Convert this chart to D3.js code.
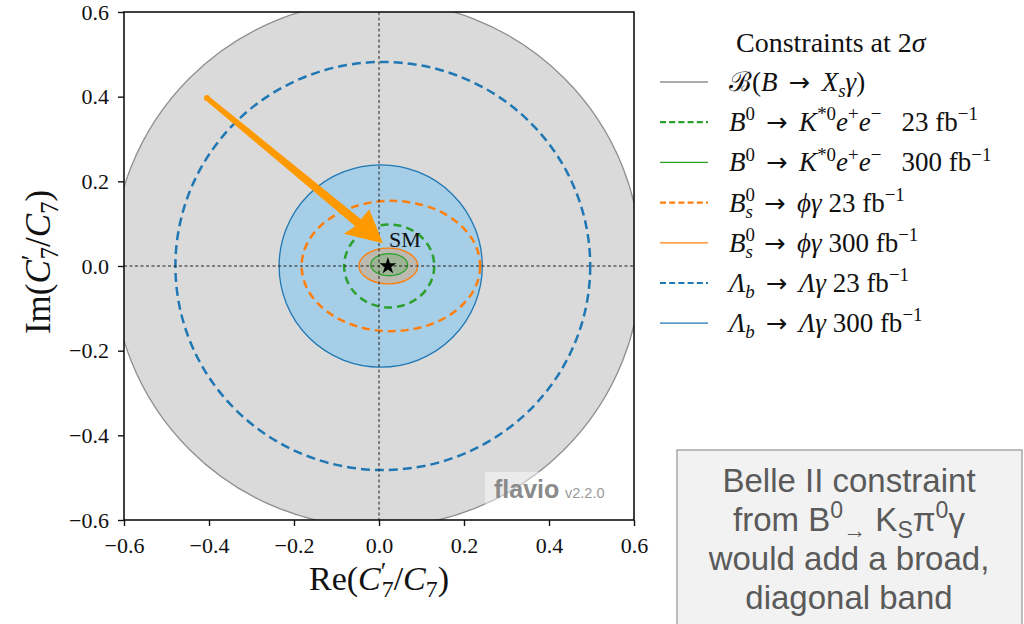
<!DOCTYPE html>
<html><head><meta charset="utf-8">
<script src="https://cdn.jsdelivr.net/npm/d3@7"></script>
<style>
html,body{margin:0;padding:0;background:#fff;}
svg{display:block;}
text{white-space:pre;}
</style></head>
<body>
<script>
// ---------- data ----------
const xTicks = [-0.6, -0.4, -0.2, 0.0, 0.2, 0.4, 0.6];
const yTicks = [-0.6, -0.4, -0.2, 0.0, 0.2, 0.4, 0.6];
const constraintKeys = ["xsgamma", "kee23", "kee300", "phig23", "phig300", "lam23", "lam300"];
const centerRe = [-0.005, 0.024, 0.024, 0.028, 0.022, 0.009, 0.004];
const centerIm = [0.005, 0.000, 0.003, 0.000, 0.000, 0.000, 0.000];
const radiusRe = [0.622, 0.106, 0.0435, 0.210, 0.069, 0.488, 0.239];
const radiusIm = [0.622, 0.098, 0.026, 0.154, 0.042, 0.482, 0.239];
const smPoint = [0.021, 0.0];
const arrowPts = [[-0.405, 0.397], [0.009, 0.054]];
const legendTitle = [["Constraints at 2", "r"], ["σ", "i"]];
const legendLabels = [
  [["ℬ", "r"], ["(", "r"], ["B", "i"], ["→", "arrow"], ["X", "i"], ["s", "isub"], ["γ", "i"], [")", "r"]],
  [["B", "i"], ["0", "sup"], ["→", "arrow"], ["K", "i"], ["*0", "sup"], ["e", "i"], ["+", "sup"], ["e", "i"], ["−", "sup"], ["   23 fb", "r"], ["−1", "sup"]],
  [["B", "i"], ["0", "sup"], ["→", "arrow"], ["K", "i"], ["*0", "sup"], ["e", "i"], ["+", "sup"], ["e", "i"], ["−", "sup"], ["   300 fb", "r"], ["−1", "sup"]],
  [["B", "i"], ["0", "sup"], ["s", "isubstack"], ["→", "arrow"], ["ϕγ", "i"], [" 23 fb", "r"], ["−1", "sup"]],
  [["B", "i"], ["0", "sup"], ["s", "isubstack"], ["→", "arrow"], ["ϕγ", "i"], [" 300 fb", "r"], ["−1", "sup"]],
  [["Λ", "i"], ["b", "isub"], ["→", "arrow"], ["Λγ", "i"], [" 23 fb", "r"], ["−1", "sup"]],
  [["Λ", "i"], ["b", "isub"], ["→", "arrow"], ["Λγ", "i"], [" 300 fb", "r"], ["−1", "sup"]]
];
const xLabel = [["Re(", "r"], ["C", "i"], ["′", "prime"], ["7", "substack"], ["/", "r"], ["C", "i"], ["7", "sub"], [")", "r"]];
const yLabel = [["Im(", "r"], ["C", "i"], ["′", "prime"], ["7", "substack"], ["/", "r"], ["C", "i"], ["7", "sub"], [")", "r"]];
const noteLines = [
  [["Belle II constraint", "r"]],
  [["from B", "r"], ["0", "sup"], ["→", "sub"], [" K", "r"], ["S", "sub"], ["π", "r"], ["0", "sup"], ["γ", "r"]],
  [["would add a broad,", "r"]],
  [["diagonal band", "r"]]
];
const watermark = ["flavio", "v2.2.0"];

// ---------- styles ----------
const styles = {
  xsgamma: {stroke: "#8f8f8f", fill: "#dadada", dash: null, w: 1.3},
  kee23:   {stroke: "#2ca02c", fill: "none", dash: "8,5", w: 2.5},
  kee300:  {stroke: "#2ca02c", fill: "rgba(44,160,44,0.22)", dash: null, w: 1.3},
  phig23:  {stroke: "#ff7f0e", fill: "none", dash: "8,5", w: 2.5},
  phig300: {stroke: "#ff7f0e", fill: "rgba(255,127,14,0.25)", dash: null, w: 1.3},
  lam23:   {stroke: "#1f77b4", fill: "none", dash: "9,5", w: 2.5},
  lam300:  {stroke: "#1f77b4", fill: "#a6cee6", dash: null, w: 1.3}
};
const drawOrder = ["xsgamma", "lam23", "lam300", "phig23", "kee23", "phig300", "kee300"];

const W = 1024, H = 624;
const serif = "'Liberation Serif', 'DejaVu Serif', serif";
const sans = "'Liberation Sans', Arial, sans-serif";

const svg = d3.select("body").append("svg").attr("width", W).attr("height", H);
const x = d3.scaleLinear().domain([-0.6, 0.6]).range([124, 634]);
const y = d3.scaleLinear().domain([-0.6, 0.6]).range([520, 12]);

function rich(textSel, segs, size) {
  let cur = 0, prev = null;
  segs.forEach(([t, st]) => {
    let target = 0, fs = size;
    if (st.includes("sup")) { target = -0.4 * size; fs = 0.7 * size; }
    if (st.includes("sub")) { target = 0.22 * size; fs = 0.7 * size; }
    if (st === "prime") { target = -0.3 * size; fs = 0.75 * size; }
    const ts = textSel.append("tspan").text(t)
      .attr("font-size", fs)
      .attr("font-style", st.startsWith("i") ? "italic" : "normal");
    if (st === "arrow") {
      ts.attr("font-family", "'DejaVu Sans', sans-serif").attr("font-size", size * 0.95)
        .attr("dx", size * 0.42);
    }
    if (prev && prev.attr("data-arrow")) ts.attr("dx", size * 0.42);
    if (st === "arrow") ts.attr("data-arrow", 1);
    if (target - cur !== 0) ts.attr("dy", target - cur);
    if (st.includes("stack") && prev) ts.attr("dx", -prev.node().getComputedTextLength() + (st === "substack" ? 1 : 0));
    cur = target;
    prev = ts;
  });
  if (cur !== 0) textSel.append("tspan").text("").attr("dy", -cur);
}

// ---------- plot ----------
svg.append("defs").append("clipPath").attr("id", "clip")
  .append("rect").attr("x", x(-0.6)).attr("y", y(0.6))
  .attr("width", x(0.6) - x(-0.6)).attr("height", y(-0.6) - y(0.6));

const plot = svg.append("g").attr("clip-path", "url(#clip)");
drawOrder.forEach(k => {
  const i = constraintKeys.indexOf(k);
  const s = styles[k];
  plot.append("ellipse")
    .attr("cx", x(centerRe[i])).attr("cy", y(centerIm[i]))
    .attr("rx", x(centerRe[i] + radiusRe[i]) - x(centerRe[i]))
    .attr("ry", y(centerIm[i]) - y(centerIm[i] + radiusIm[i]))
    .attr("fill", s.fill).attr("stroke", s.stroke).attr("stroke-width", s.w)
    .attr("stroke-dasharray", s.dash);
});

// crosshair
plot.append("line").attr("x1", x(0)).attr("x2", x(0)).attr("y1", y(0.6)).attr("y2", y(-0.6))
  .attr("stroke", "#222").attr("stroke-width", 1).attr("stroke-dasharray", "3,2.5");
plot.append("line").attr("x1", x(-0.6)).attr("x2", x(0.6)).attr("y1", y(0)).attr("y2", y(0))
  .attr("stroke", "#222").attr("stroke-width", 1).attr("stroke-dasharray", "3,2.5");

// SM star
plot.append("path").attr("d", d3.symbol(d3.symbolStar, 90)())
  .attr("transform", `translate(${x(smPoint[0])},${y(smPoint[1])})`)
  .attr("fill", "#000");
plot.append("text").attr("x", x(smPoint[0]) + 1).attr("y", y(smPoint[1]) - 19)
  .attr("font-family", serif).attr("font-size", 22).attr("fill", "#111").text("SM");

// watermark
const wm = svg.append("g");
wm.append("rect").attr("x", 485).attr("y", 472).attr("width", 125).attr("height", 35)
  .attr("fill", "#fff").attr("opacity", 0.45);
wm.append("text").attr("x", 494).attr("y", 498).attr("font-family", sans)
  .attr("font-weight", "bold").attr("font-size", 25).attr("fill", "#8a8a8a").text(watermark[0]);
wm.append("text").attr("x", 565).attr("y", 498).attr("font-family", sans)
  .attr("font-size", 14.5).attr("fill", "#9a9a9a").text(watermark[1]);

// arrow
{
  const T = [x(arrowPts[0][0]), y(arrowPts[0][1])];
  const P = [x(arrowPts[1][0]), y(arrowPts[1][1])];
  const dx = P[0] - T[0], dy = P[1] - T[1], L = Math.hypot(dx, dy);
  const u = [dx / L, dy / L], n = [-u[1], u[0]];
  const hl = 34, hw = 17.5, w0 = 2.6, w1 = 4.6;
  const B = [P[0] - u[0] * hl, P[1] - u[1] * hl];
  const pt = (o, a, b) => [o[0] + n[0] * a + u[0] * b, o[1] + n[1] * a + u[1] * b];
  const poly = [pt(T, w0, 0), pt(B, w1, 2), pt(B, hw, -2), P, pt(B, -hw, 2), pt(B, -w1, 2), pt(T, -w0, 0)];
  svg.append("path").attr("d", "M" + poly.map(p => p.join(",")).join("L") + "Z").attr("fill", "#ff9900");
  svg.append("circle").attr("cx", T[0]).attr("cy", T[1]).attr("r", w0 + 0.3).attr("fill", "#ff9900");
}

// frame
svg.append("rect").attr("x", x(-0.6)).attr("y", y(0.6))
  .attr("width", x(0.6) - x(-0.6)).attr("height", y(-0.6) - y(0.6))
  .attr("fill", "none").attr("stroke", "#111").attr("stroke-width", 1.6);

// axes
const fmt = d3.format(".1f");
const xa = svg.append("g").attr("transform", `translate(0,${y(-0.6)})`)
  .call(d3.axisBottom(x).tickValues(xTicks).tickSize(6).tickPadding(11).tickFormat(fmt));
const ya = svg.append("g").attr("transform", `translate(${x(-0.6)},0)`)
  .call(d3.axisLeft(y).tickValues(yTicks).tickSize(6).tickPadding(9).tickFormat(fmt));
[xa, ya].forEach(a => {
  a.select(".domain").remove();
  a.selectAll(".tick line").attr("stroke", "#111").attr("stroke-width", 1.4);
  a.selectAll(".tick text").attr("font-family", serif).attr("font-size", 22).attr("fill", "#111");
});

// axis labels
const xl = svg.append("text").attr("x", x(0)).attr("y", 590).attr("text-anchor", "middle")
  .attr("font-family", serif).attr("fill", "#111");
rich(xl, xLabel, 34);
const yl = svg.append("text").attr("transform", `translate(50,${y(0) - 4}) rotate(-90)`)
  .attr("text-anchor", "middle").attr("font-family", serif).attr("fill", "#111");
rich(yl, yLabel, 35);

// legend
const lg = svg.append("g");
const lt = lg.append("text").attr("x", 736).attr("y", 52).attr("font-family", serif).attr("fill", "#111");
rich(lt, legendTitle, 28);
constraintKeys.forEach((k, i) => {
  const cy = 82 + i * 40.2;
  const s = styles[k];
  lg.append("line").attr("x1", 660).attr("x2", 708).attr("y1", cy).attr("y2", cy)
    .attr("stroke", s.stroke).attr("stroke-width", s.dash ? 2.2 : 1.3)
    .attr("stroke-dasharray", s.dash ? "6,3.2" : null);
  const t = lg.append("text").attr("x", 729).attr("y", cy + 9).attr("font-family", serif).attr("fill", "#111");
  rich(t, legendLabels[i], 27);
});

// note box
svg.append("rect").attr("x", 677).attr("y", 450).attr("width", 345).attr("height", 190)
  .attr("fill", "#f2f2f2").attr("stroke", "#a8a8a8").attr("stroke-width", 1.5);
noteLines.forEach((segs, i) => {
  const t = svg.append("text").attr("x", 849).attr("y", 492 + i * 39).attr("text-anchor", "middle")
    .attr("font-family", sans).attr("fill", "#5a5a5a");
  rich(t, segs, 33);
});
</script>
</body></html>
